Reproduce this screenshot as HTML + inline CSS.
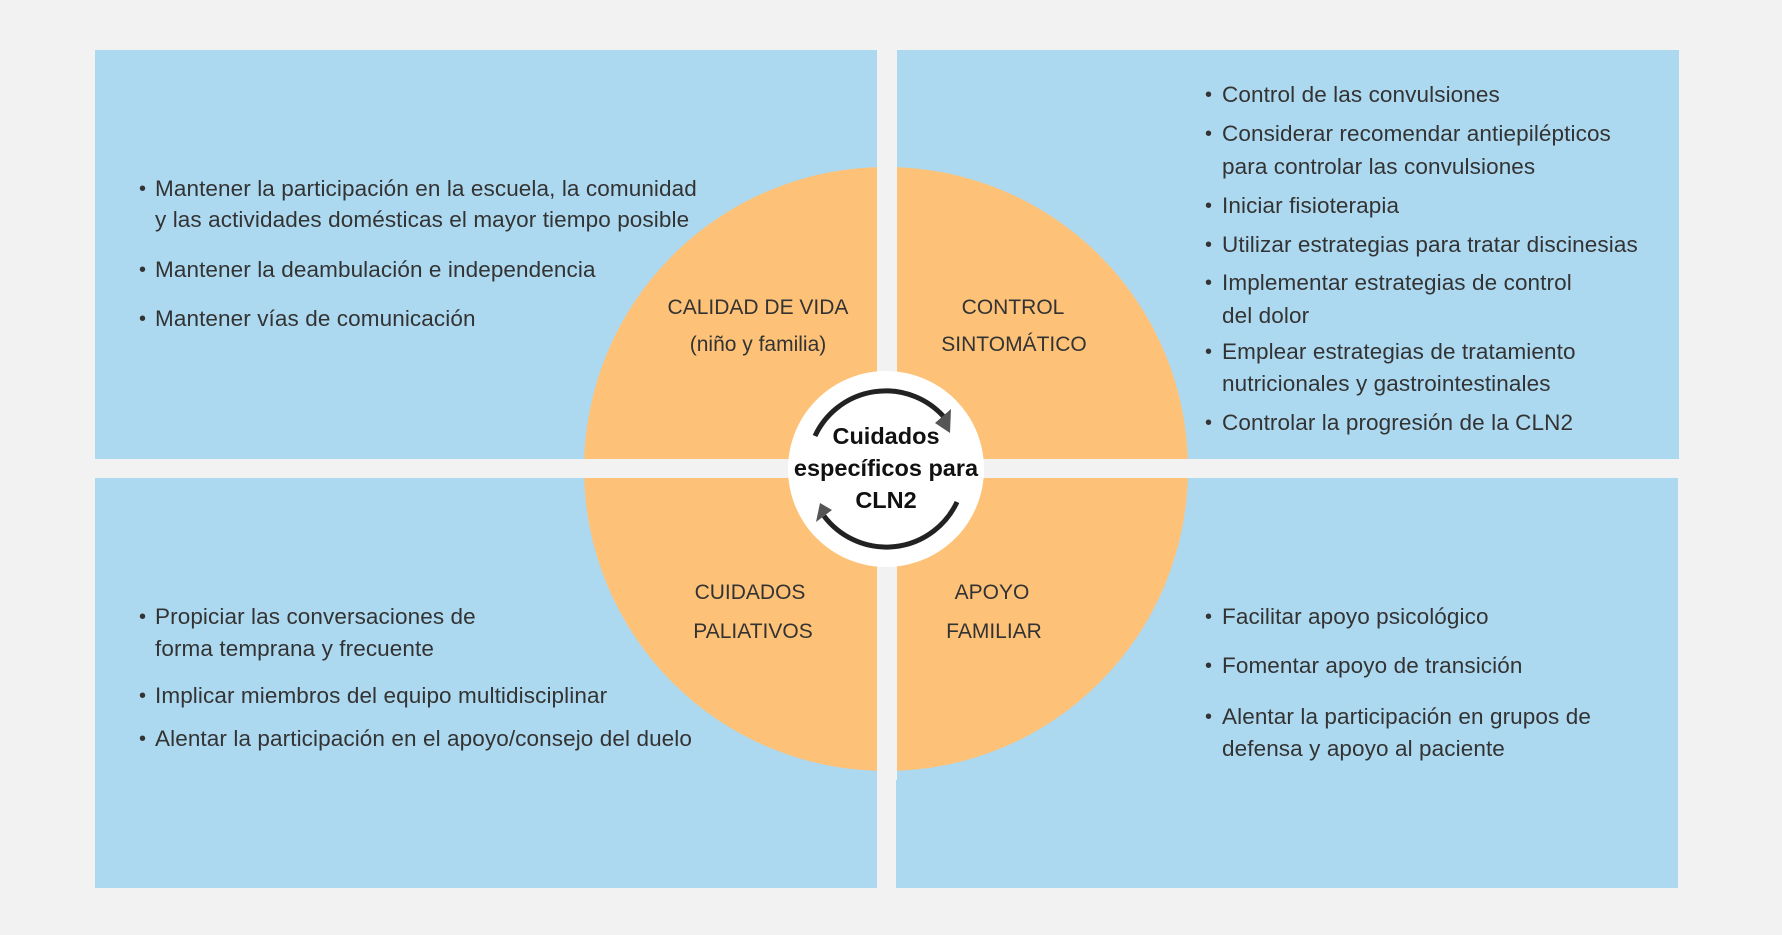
<!DOCTYPE html>
<html><head><meta charset="utf-8"><style>
body{margin:0;width:1782px;height:935px;background:#f2f2f2;position:relative;overflow:hidden;font-family:"Liberation Sans",sans-serif;color:#333}
.p{position:absolute;background:#add9f0}
.t{position:absolute;font-size:22.5px;line-height:24px;white-space:nowrap;letter-spacing:0.1px}
.b{position:absolute;font-size:20px;line-height:24px}
.c{position:absolute;font-size:21px;line-height:26px;white-space:nowrap;transform:translateX(-50%);text-align:center}
.k{font-weight:bold;font-size:23.5px;color:#111}
</style></head><body>
<div class="p" style="left:95px;top:50px;width:782px;height:409px"></div>
<div class="p" style="left:897px;top:50px;width:782px;height:409px"></div>
<div class="p" style="left:95px;top:478px;width:782px;height:410px"></div>
<div class="p" style="left:896px;top:478px;width:782px;height:410px"></div>
<svg style="position:absolute;left:0;top:0" width="1782" height="935">
<circle cx="886" cy="469" r="302" fill="#fdc278"/>
<rect x="877" y="160" width="20" height="620" fill="#f2f2f2"/>
<rect x="580" y="459" width="612" height="19" fill="#f2f2f2"/>
<circle cx="886" cy="469" r="98" fill="#fff"/>
<path d="M815 436 A78 78 0 0 1 944 417" fill="none" stroke="#222" stroke-width="5"/>
<polygon points="951,409 935,423 950,433" fill="#555"/>
<path d="M957 502 A78 78 0 0 1 824 516" fill="none" stroke="#222" stroke-width="5"/>
<polygon points="832,510 816,522 820,503" fill="#555"/>
</svg>
<div class="c k" style="left:886px;top:423px">Cuidados</div>
<div class="c k" style="left:886px;top:455px">específicos para</div>
<div class="c k" style="left:886px;top:487px">CLN2</div>
<div class="c" style="left:758px;top:295px">CALIDAD DE VIDA</div>
<div class="c" style="left:758px;top:332px">(niño y familia)</div>
<div class="c" style="left:1013px;top:295px">CONTROL</div>
<div class="c" style="left:1014px;top:332px">SINTOMÁTICO</div>
<div class="c" style="left:750px;top:580px">CUIDADOS</div>
<div class="c" style="left:753px;top:619px">PALIATIVOS</div>
<div class="c" style="left:992px;top:580px">APOYO</div>
<div class="c" style="left:994px;top:619px">FAMILIAR</div>

<div class="b" style="left:139px;top:177px">•</div><div class="t" style="left:155px;top:177px">Mantener la participación en la escuela, la comunidad</div>
<div class="t" style="left:155px;top:208px">y las actividades domésticas el mayor tiempo posible</div>
<div class="b" style="left:139px;top:258px">•</div><div class="t" style="left:155px;top:258px">Mantener la deambulación e independencia</div>
<div class="b" style="left:139px;top:307px">•</div><div class="t" style="left:155px;top:307px">Mantener vías de comunicación</div>

<div class="b" style="left:1205px;top:83px">•</div><div class="t" style="left:1222px;top:83px">Control de las convulsiones</div>
<div class="b" style="left:1205px;top:122px">•</div><div class="t" style="left:1222px;top:122px">Considerar recomendar antiepilépticos</div>
<div class="t" style="left:1222px;top:155px">para controlar las convulsiones</div>
<div class="b" style="left:1205px;top:194px">•</div><div class="t" style="left:1222px;top:194px">Iniciar fisioterapia</div>
<div class="b" style="left:1205px;top:233px">•</div><div class="t" style="left:1222px;top:233px">Utilizar estrategias para tratar discinesias</div>
<div class="b" style="left:1205px;top:271px">•</div><div class="t" style="left:1222px;top:271px">Implementar estrategias de control</div>
<div class="t" style="left:1222px;top:304px">del dolor</div>
<div class="b" style="left:1205px;top:340px">•</div><div class="t" style="left:1222px;top:340px">Emplear estrategias de tratamiento</div>
<div class="t" style="left:1222px;top:372px">nutricionales y gastrointestinales</div>
<div class="b" style="left:1205px;top:411px">•</div><div class="t" style="left:1222px;top:411px">Controlar la progresión de la CLN2</div>

<div class="b" style="left:139px;top:605px">•</div><div class="t" style="left:155px;top:605px">Propiciar las conversaciones de</div>
<div class="t" style="left:155px;top:637px">forma temprana y frecuente</div>
<div class="b" style="left:139px;top:684px">•</div><div class="t" style="left:155px;top:684px">Implicar miembros del equipo multidisciplinar</div>
<div class="b" style="left:139px;top:727px">•</div><div class="t" style="left:155px;top:727px">Alentar la participación en el apoyo/consejo del duelo</div>

<div class="b" style="left:1205px;top:605px">•</div><div class="t" style="left:1222px;top:605px">Facilitar apoyo psicológico</div>
<div class="b" style="left:1205px;top:654px">•</div><div class="t" style="left:1222px;top:654px">Fomentar apoyo de transición</div>
<div class="b" style="left:1205px;top:705px">•</div><div class="t" style="left:1222px;top:705px">Alentar la participación en grupos de</div>
<div class="t" style="left:1222px;top:737px">defensa y apoyo al paciente</div>
</body></html>
